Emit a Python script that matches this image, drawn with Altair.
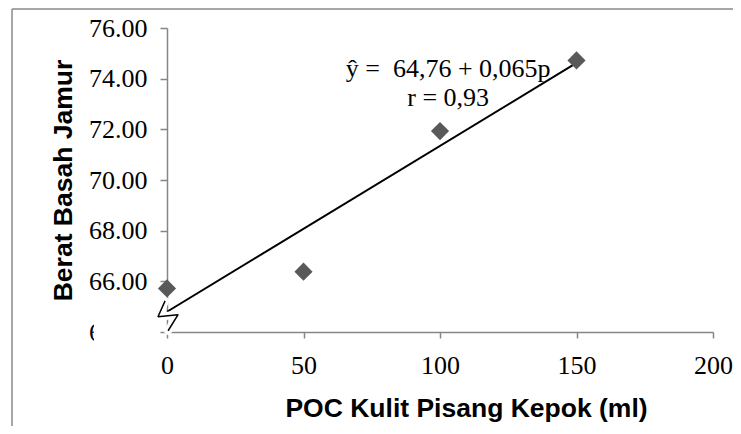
import altair as alt
import pandas as pd

# Data
poc_ml = [0, 50, 100, 150]
berat_basah = [65.72, 66.38, 71.93, 74.72]

trend_x = [0, 150]
trend_y = [64.80, 74.62]

ann_x = [103, 103]
ann_y = [74.38, 73.25]
ann_text = ["ŷ =\u00a0 64,76 + 0,065p", "r = 0,93"]

# axis-break marker (zigzag) near the origin, in data units
brk_x = [-0.7, -3.3, 4.0, 0.4]
brk_y = [65.23, 64.60, 64.68, 64.05]
brk_order = [0, 1, 2, 3]

x_ticks = [0, 50, 100, 150, 200]
y_ticks = [64, 66, 68, 70, 72, 74, 76]

W, H = 546, 304
serif = "Liberation Serif"
sans = "Liberation Sans"

pts = pd.DataFrame({"x": poc_ml, "y": berat_basah})
trend = pd.DataFrame({"x": trend_x, "y": trend_y})
ann = pd.DataFrame({"x": ann_x, "y": ann_y, "t": ann_text})
brk = pd.DataFrame({"x": brk_x, "y": brk_y, "o": brk_order})
one = pd.DataFrame({"a": [0]})

xs = alt.Scale(domain=[0, 200], nice=False, zero=False)
ys = alt.Scale(domain=[64, 76], nice=False, zero=False)

xax = alt.Axis(values=x_ticks, format="d", title="POC Kulit Pisang Kepok (ml)",
               labelFont=serif, labelFontSize=26, labelPadding=14, labelFlush=False,
               titleFont=sans, titleFontSize=26.5, titleFontWeight="bold",
               titleX=299, titleY=76, titleAlign="center", titleBaseline="middle",
               tickSize=6)
yax = alt.Axis(values=y_ticks, format=".2f", title="Berat Basah Jamur",
               labelFont=serif, labelFontSize=26, labelPadding=13, labelFlush=False,
               titleFont=sans, titleFontSize=26.5, titleFontWeight="bold",
               titleX=-104, titleY=H / 2, titleAngle=-90, titleAlign="center",
               titleBaseline="middle", tickSize=7)

line = alt.Chart(trend).mark_line(color="black", strokeWidth=2).encode(
    x=alt.X("x:Q", scale=xs, axis=xax),
    y=alt.Y("y:Q", scale=ys, axis=yax),
)

points = alt.Chart(pts).mark_point(shape="diamond", filled=True, size=330,
                                   color="#595959", opacity=1).encode(
    x=alt.X("x:Q", scale=xs), y=alt.Y("y:Q", scale=ys))

brk_white = alt.Chart(brk).mark_line(color="white", strokeWidth=8,
                                     strokeJoin="round", strokeCap="round").encode(
    x=alt.X("x:Q", scale=xs), y=alt.Y("y:Q", scale=ys), order="o:Q")
brk_black = alt.Chart(brk).mark_line(color="black", strokeWidth=1.5,
                                     strokeJoin="round").encode(
    x=alt.X("x:Q", scale=xs), y=alt.Y("y:Q", scale=ys), order="o:Q")

label_mask = alt.Chart(one).mark_rect(color="white").encode(
    x=alt.value(-73), x2=alt.value(-9), y=alt.value(289), y2=alt.value(320))

text = alt.Chart(ann).mark_text(font=serif, fontSize=26, color="black",
                                align="center", baseline="middle").encode(
    x=alt.X("x:Q", scale=xs), y=alt.Y("y:Q", scale=ys), text="t:N")

frame_left = alt.Chart(one).mark_rule(color="#8a8a8a", strokeWidth=1.5).encode(
    x=alt.value(-155), y=alt.value(-19), y2=alt.value(400))
frame_top = alt.Chart(one).mark_rule(color="#8a8a8a", strokeWidth=1.5).encode(
    x=alt.value(-155), x2=alt.value(600), y=alt.value(-19))

chart = alt.layer(
    line, brk_white, brk_black, points, label_mask, text, frame_left, frame_top
).properties(
    width=W, height=H,
    autosize=alt.AutoSizeParams(type="none"),
    padding={"left": 159, "top": 20, "right": 20, "bottom": 94},
).configure_view(stroke=None).configure_axis(
    grid=False, domainColor="#868686", tickColor="#868686",
    domainWidth=1.5, tickWidth=1.5, labelColor="black", titleColor="black",
)

chart.save("out.html", embed_options={"renderer": "svg", "actions": False})
